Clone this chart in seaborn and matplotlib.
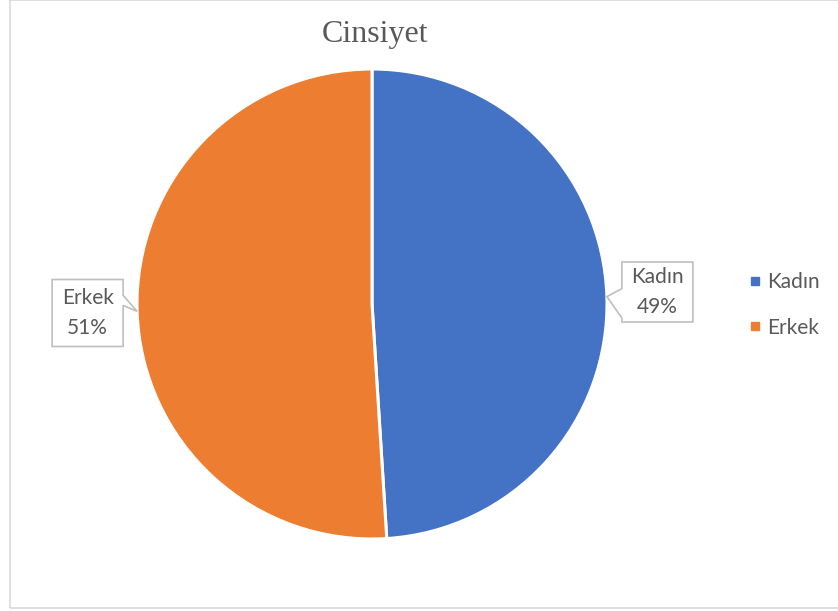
import numpy as np
import matplotlib
matplotlib.use("Agg")
import matplotlib.pyplot as plt
import seaborn as sns
from matplotlib.patches import Polygon, Rectangle
from matplotlib.lines import Line2D

# chart data
categories = ["Kadın", "Erkek"]
values = [49, 51]
colors = ["#4472C4", "#ED7D31"]
title = "Cinsiyet"

W, H = 838, 611
CX, CY, R = 372, 304, 235  # pie centre / radius in pixels (y from top)
TEXT = "#595959"

sns.set_theme(style="white")
plt.rcParams["font.family"] = ["Lato", "DejaVu Sans"]

fig = plt.figure(figsize=(W / 100, H / 100), dpi=100)
ax = fig.add_axes([0, 0, 1, 1])


def py(y):
    # pixel row (top origin) -> data y
    return H - y


wedges, _ = ax.pie(values, colors=colors, startangle=90, counterclock=False,
                   center=(CX, py(CY)), radius=R,
                   wedgeprops=dict(edgecolor="white", linewidth=2.2))
ax.set_xlim(0, W)
ax.set_ylim(0, H)
ax.set_aspect("auto")
ax.set_axis_off()

# outer chart border
ax.add_patch(Rectangle((10, py(608)), W, 608, fill=False,
                       edgecolor="#D9D9D9", linewidth=1.2, clip_on=False))

ax.text(375, py(42), title, ha="center", va="baseline", fontsize=23,
        family="Liberation Serif", color=TEXT)


def callout(tip, side, box_w=71, box_h=62, gap=15, cy=None, text=""):
    tx, ty = tip
    cy = ty if cy is None else cy
    top, bot = cy + box_h / 2, cy - box_h / 2
    if side == "right":
        left = tx + gap
        right = left + box_w
        b1, b2 = ty + 8, bot + 4
        pts = [(left, top), (right, top), (right, bot), (left, bot),
               (left, b2), (tx, ty), (left, b1)]
    else:
        right = tx - gap
        left = right - box_w
        b1, b2 = ty + 16, ty + 6
        pts = [(left, top), (right, top), (right, b1), (tx, ty),
               (right, b2), (right, bot), (left, bot)]
    ax.add_patch(Polygon(pts, closed=True, facecolor="white",
                         edgecolor="#BFBFBF", linewidth=1.2, zorder=5))
    ax.text((left + right) / 2, cy, text, ha="center", va="center",
            fontsize=15, color=TEXT, linespacing=1.65, zorder=6)


total = sum(values)
for w, cat, v in zip(wedges, categories, values):
    mid = np.deg2rad((w.theta1 + w.theta2) / 2)
    tip = (CX + R * np.cos(mid), py(CY) + R * np.sin(mid))
    pct = round(100 * v / total)
    label = f"{cat}\n{pct}%"
    if np.cos(mid) > 0:
        callout(tip, "right", box_h=60, gap=15, cy=py(292), text=label)
    else:
        callout(tip, "left", box_h=67, gap=14, cy=py(313), text=label)

handles = [Line2D([], [], marker="s", linestyle="", markersize=6,
                  markerfacecolor=c, markeredgecolor=c) for c in colors]
leg = ax.legend(handles, categories, loc="center left",
                bbox_to_anchor=(736 / W, 1 - 305 / H), frameon=False,
                fontsize=15, labelcolor=TEXT, handletextpad=0.2,
                handlelength=0.8, labelspacing=1.2, borderpad=0)

fig.savefig("out.png", dpi=100, facecolor="white")
